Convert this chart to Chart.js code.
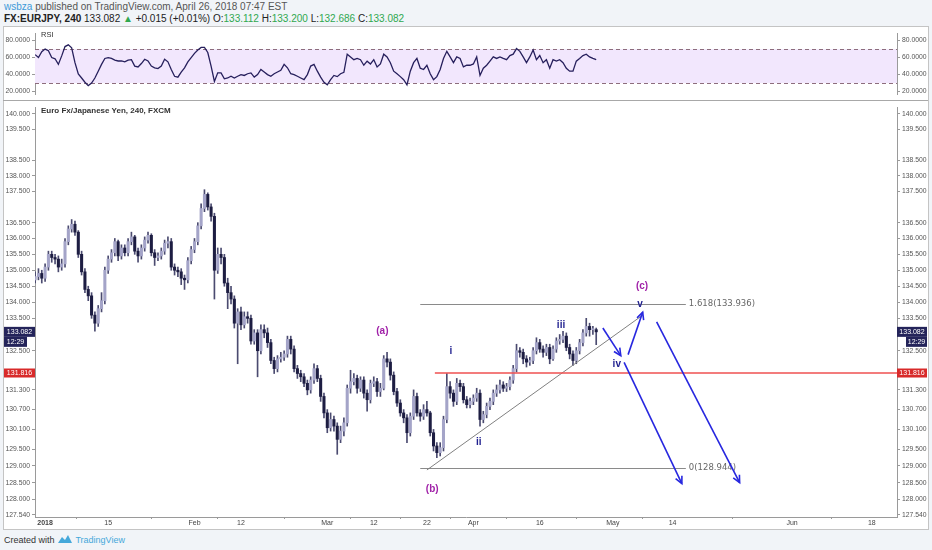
<!DOCTYPE html>
<html><head><meta charset="utf-8">
<script src="https://cdn.jsdelivr.net/npm/chart.js@4.4.1/dist/chart.umd.min.js"></script>
<style>
html,body{margin:0;padding:0;width:932px;height:550px;overflow:hidden;background:#f1f4f8;font-family:"Liberation Sans",Arial,sans-serif;}
#h1{position:absolute;left:4px;top:1px;font-size:10px;color:#555;white-space:nowrap;}
#h2{position:absolute;left:4px;top:13px;font-size:10px;color:#222;white-space:nowrap;}
.g{color:#2fa84f;}
#frame{position:absolute;left:3px;top:26px;width:924px;height:502px;background:#fff;border:1px solid #c4c4c4;}
canvas{position:absolute;left:3px;}
#rsi{top:27px;}
#main{top:101px;}
#sep{position:absolute;left:3px;top:100px;width:925px;height:1px;background:#a8a8a8;}
#rsiT{position:absolute;left:41px;top:30px;font-size:7.5px;color:#333;}
#mainT{position:absolute;left:41px;top:106px;font-size:8px;font-weight:bold;color:#333;white-space:nowrap;}
#ft{position:absolute;left:4px;top:534px;font-size:9px;color:#333;white-space:nowrap;}
#ft span{color:#45a8da;}
</style></head>
<body>
<div id="h1"><span style="color:#3d9ad8">wsbza</span> published on TradingView.com, April 26, 2018 07:47 EST</div>
<div id="h2"><b>FX:EURJPY, 240</b> 133.082 <span class="g">▲</span> +0.015 (+0.01%) O:<span class="g">133.112</span> H:<span class="g">133.200</span> L:<span class="g">132.686</span> C:<span class="g">133.082</span></div>
<div id="frame"></div>
<canvas id="rsi" width="925" height="74" style="width:925px;height:74px"></canvas>
<canvas id="main" width="925" height="428" style="width:925px;height:428px"></canvas>
<div id="sep"></div>
<div id="rsiT">RSI</div>
<div id="mainT">Euro Fx/Japanese Yen, 240, FXCM</div>
<div id="ft">Created with <svg width="16" height="10" viewBox="0 0 16 10" style="vertical-align:-1px"><path d="M1 9 L5 3 L8 6 L11 1 L15 9 Z" fill="#45a8da"/></svg> <span>TradingView</span></div>
<script>
// time axis: weekday index counted from 1 Jan 2018, two bars (12h) per day
const firstT = -1;
const barStep = 0.5;
const firstOpen = 134.7;
const closes = [
134.8,134.9,134.75,135.1,135.5,135.4,135.35,135.1,135.2,135.9,
136.3,136.45,136.2,135.5,134.95,134.4,134.2,133.6,133.35,133.8,
134.05,135.0,135.35,135.55,135.9,135.45,135.7,135.55,135.9,136.05,
135.6,135.45,135.7,135.95,136.1,135.55,135.4,135.45,135.6,135.85,
135.9,135.1,135.0,134.95,134.75,134.7,135.3,135.65,135.9,136.4,
136.95,137.4,137.0,136.7,135.0,135.5,135.4,134.6,134.3,134.1,
133.35,133.7,133.3,133.55,133.5,132.8,133.05,132.5,133.15,133.05,
132.75,132.2,131.95,132.25,132.3,132.4,132.85,132.55,131.95,131.8,
131.7,131.5,131.3,131.6,131.95,131.65,131.1,130.6,130.15,130.4,
130.2,129.8,130.05,130.3,131.35,131.55,131.65,131.35,131.6,131.2,
131.0,131.5,131.55,131.25,131.35,132.25,132.15,131.75,131.25,130.9,
130.6,130.45,130.0,130.5,131.1,130.6,130.5,130.7,130.6,130.0,
129.6,129.4,129.55,130.4,131.4,131.2,130.95,131.5,131.4,131.0,
130.85,130.95,131.05,131.2,130.4,130.55,130.8,130.95,131.2,131.3,
131.45,131.35,131.4,131.6,131.95,132.5,132.45,132.25,132.15,132.2,
132.5,132.75,132.55,132.45,132.6,132.25,132.55,132.8,132.85,132.95,
132.6,132.4,132.2,132.5,132.75,133.05,133.25,133.15,133.15,133.082];
const highs = [
134.95,135.05,135.0,135.2,135.6,135.6,135.5,135.45,135.35,136.0,
136.4,136.6,136.55,136.25,135.6,135.05,134.5,134.3,133.7,133.9,
134.3,135.1,135.45,135.65,136.0,135.95,135.8,135.8,136.0,136.2,
136.1,135.7,135.8,136.05,136.2,136.15,135.65,135.55,135.7,135.95,
136.05,136.0,135.2,135.1,135.05,134.85,135.4,135.75,136.0,136.5,
137.1,137.55,137.45,137.1,136.8,135.7,135.7,135.5,134.75,134.5,
134.2,133.8,133.85,133.7,133.7,133.6,133.15,133.15,133.3,133.3,
133.2,132.85,132.3,132.35,132.45,132.5,132.95,132.95,132.65,132.05,
131.9,131.8,131.6,131.7,132.1,132.05,131.75,131.2,130.7,130.6,
130.5,130.3,130.2,130.45,131.45,131.9,131.8,131.75,131.7,131.7,
131.3,131.6,131.7,131.65,131.5,132.35,132.45,132.25,131.85,131.35,
131.0,130.7,130.55,130.6,131.3,131.2,130.7,130.85,130.95,130.65,
130.1,129.7,129.7,130.5,131.8,131.55,131.3,131.65,131.6,131.5,
131.1,131.05,131.15,131.35,131.3,130.65,130.9,131.05,131.3,131.45,
131.6,131.55,131.5,131.7,132.05,132.7,132.6,132.55,132.35,132.3,
132.6,132.9,132.85,132.65,132.7,132.7,132.65,132.9,133.0,133.1,
133.05,132.7,132.5,132.6,132.85,133.15,133.5,133.35,133.25,133.2];
const lows = [
134.6,134.7,134.6,134.65,135.0,135.25,135.2,134.95,135.0,135.1,
135.8,136.2,136.1,135.4,134.85,134.3,134.05,133.5,133.1,133.25,
133.7,133.95,134.9,135.25,135.45,135.3,135.35,135.45,135.45,135.8,
135.5,135.25,135.35,135.6,135.85,135.45,135.15,135.3,135.35,135.5,
135.7,135.0,134.85,134.8,134.55,134.4,134.6,135.2,135.55,135.8,
136.3,136.85,136.9,136.55,134.1,134.9,135.2,134.5,133.8,133.95,
133.2,132.1,133.15,133.2,133.35,132.7,132.7,131.7,132.4,132.9,
132.6,132.1,131.8,131.85,132.15,132.2,132.3,132.4,131.85,131.65,
131.55,131.4,131.15,131.2,131.5,131.55,130.95,130.45,130.0,130.05,
130.05,129.35,129.7,129.9,130.2,131.2,131.45,131.2,131.25,131.05,
130.65,130.9,131.4,131.1,131.1,131.3,132.0,131.6,131.15,130.8,
130.5,130.3,129.7,129.9,130.4,130.5,130.35,130.4,130.5,129.9,
129.45,129.25,129.3,129.45,130.3,131.05,130.8,130.85,131.25,130.9,
130.75,130.75,130.85,130.95,130.2,130.3,130.45,130.7,130.85,131.1,
131.2,131.25,131.25,131.3,131.5,131.85,132.3,132.1,132.0,132.05,
132.1,132.4,132.45,132.3,132.35,132.1,132.2,132.45,132.7,132.75,
132.5,132.25,132.05,132.1,132.4,132.65,132.95,132.95,133.0,132.686];
const rsiValues = [
63.5,60,67,70,68,60,58.6,52,62,73,
75,71.6,54,40.75,36,31,27,30,36,44,
52,59,60,59,57,56,56,55,57,57.5,
50,49,53,58,56,50,48,47,50,58,
55,46,38,37,43,48,55,60,65,69,
72,72,66,50,32,42,42,35,36,38,
36,38,40,39,41,42,37,40,46,43,
40,38,41,43,45,52,48,41,40,38,
36,34,40,50,52,44,37,31,28,
34,39,37.6,41,42.6,64,60.8,57.5,59,57.5,
51,55.8,52.5,57.5,49,52.5,64,60.8,54,44,
41,37.6,34,28,44,54,59,47.5,46,51,
41,34,37.6,46,59,67.4,60.8,54,60.8,59,
49,51,51,52.5,60.8,39,47.5,51,55.8,60.8,
59,60.8,59,57.5,62.4,64,70.6,67.4,60.8,54,
60.8,69,57.5,62.4,54,57.5,47.5,57.5,55.8,57.5,
54,47.5,44,44,55.8,59,62.4,64,60.8,59,57.5];
const rsiUpper = 70, rsiLower = 30;
const rsiTicks = [20,40,60,80];
const priceTicks = [140,139.5,138.5,138,137.5,136.5,136,135.5,135,134.5,134,133.5,132.5,131.3,130.7,130.1,129.5,129,128.5,128,127.54];
const xTickPos = [0.5,10,23,30,43,50,58,65,75,86,95,113,125];
const xTickLabels = ['2018','15','Feb','12','Mar','12','22','Apr','16','May','14','Jun','18'];
const xRange = [-1.02, 128.8];
const priceRange = [127.48, 140.215];
const rsiRange = [16.07, 88.85];
const lastPrice = 133.082, lastPriceText = '133.082', countdownText = '12:29';
const redLevel = 131.816, redStartT = 59.2;
const fibLevels = [133.936, 128.944];
const fibTexts = ['1.618(133.936)', '0(128.944)'];
const fibStartT = 57, fibEndT = 97;
const trendStart = [58, 128.88], trendEnd = [90.5, 133.60];
const arrowFromT = [84.5, 88.3, 87.7, 92.6];
const arrowFromP = [133.20, 132.38, 132.14, 133.39];
const arrowToT   = [87.2, 90.5, 96.4, 105.1];
const arrowToP   = [132.35, 133.69, 128.47, 128.50];
const waveTexts  = ['(a)','(b)','(c)','i','ii','iii','iv','v'];
const waveT      = [51.3, 58.8, 90.4, 61.6, 65.8, 78.2, 86.6, 90.1];
const waveP      = [133.11, 128.30, 134.49, 132.47, 129.71, 133.30, 132.08, 133.94];
const waveMajor  = [true, true, true, false, false, false, false, false];

const tAt = i => firstT + i * barStep;
const opens = closes.map((c, i) => i === 0 ? firstOpen : closes[i - 1]);
const FF = '"Liberation Sans", Arial, sans-serif';
const axisCol = '#9a9a9a';

function yAxis(pos, min, max, ticks, digits, width, type) {
  return {
    type: type, position: pos, min: min, max: max,
    afterBuildTicks(s) { s.ticks = ticks.map(v => ({ value: v })); },
    afterFit(s) { s.width = width; },
    ticks: { autoSkip: false, padding: 2, color: '#555', font: { family: FF, size: 6.8 },
      callback: v => Number(v).toFixed(digits) },
    grid: { display: true, drawOnChartArea: false, drawTicks: true, tickLength: 3, color: axisCol },
    border: { display: true, color: axisCol }
  };
}

// RSI pane
const rsiBand = {
  id: 'rsiBand',
  beforeDatasetsDraw(chart) {
    const { ctx, chartArea: a, scales: { y } } = chart;
    const yu = y.getPixelForValue(rsiUpper), yl = y.getPixelForValue(rsiLower);
    ctx.save();
    ctx.fillStyle = '#f2e7fd';
    ctx.fillRect(a.left, yu, a.right - a.left, yl - yu);
    ctx.strokeStyle = '#8d6d7d';
    ctx.lineWidth = 1;
    ctx.setLineDash([4, 3]);
    [yu, yl].forEach(p => { ctx.beginPath(); ctx.moveTo(a.left, Math.round(p) + 0.5); ctx.lineTo(a.right, Math.round(p) + 0.5); ctx.stroke(); });
    ctx.restore();
  }
};
new Chart(document.getElementById('rsi'), {
  type: 'line',
  data: { datasets: [{ data: rsiValues.map((v, i) => ({ x: tAt(i), y: v })), borderColor: '#261f5c', borderWidth: 1.3, pointRadius: 0, tension: 0 }] },
  options: {
    responsive: false, animation: false, devicePixelRatio: 1,
    layout: { padding: 0, autoPadding: false },
    plugins: { legend: { display: false }, tooltip: { enabled: false } },
    scales: {
      x: { type: 'linear', display: false, min: xRange[0], max: xRange[1] },
      y: yAxis('left', rsiRange[0], rsiRange[1], rsiTicks, 4, 32, 'linear'),
      y2: yAxis('right', rsiRange[0], rsiRange[1], rsiTicks, 4, 31, 'linear')
    }
  },
  plugins: [rsiBand]
});

// Price pane
function arrow(ctx, x1, y1, x2, y2) {
  ctx.beginPath(); ctx.moveTo(x1, y1); ctx.lineTo(x2, y2); ctx.stroke();
  const ang = Math.atan2(y2 - y1, x2 - x1), L = 8, w = 0.45;
  ctx.beginPath();
  ctx.moveTo(x2 - L * Math.cos(ang - w), y2 - L * Math.sin(ang - w));
  ctx.lineTo(x2, y2);
  ctx.lineTo(x2 - L * Math.cos(ang + w), y2 - L * Math.sin(ang + w));
  ctx.stroke();
}
function tag(ctx, x, yc, w, h, bg, text) {
  ctx.fillStyle = bg;
  ctx.fillRect(x, yc - h / 2, w, h);
  ctx.fillStyle = '#fff';
  ctx.font = '7px ' + FF;
  ctx.textBaseline = 'middle';
  ctx.textAlign = 'center';
  ctx.fillText(text, x + w / 2, yc + 0.5);
}
const overlay = {
  id: 'overlay',
  afterDatasetsDraw(chart) {
    const { ctx, chartArea: a, scales: { x, y } } = chart;
    ctx.save();
    ctx.beginPath(); ctx.rect(a.left, a.top, a.right - a.left, a.bottom - a.top); ctx.clip();
    ctx.lineWidth = 1;
    // fib lines
    fibLevels.forEach((lv, i) => {
      const py = Math.round(y.getPixelForValue(lv)) + 0.5;
      ctx.strokeStyle = '#8a8a8a';
      ctx.beginPath(); ctx.moveTo(x.getPixelForValue(fibStartT), py); ctx.lineTo(x.getPixelForValue(fibEndT), py); ctx.stroke();
      ctx.fillStyle = '#666';
      ctx.font = '8.5px "DejaVu Sans", sans-serif';
      ctx.textAlign = 'left'; ctx.textBaseline = 'middle';
      ctx.fillText(fibTexts[i], x.getPixelForValue(fibEndT) + 3, py - 1);
    });
    // trend line
    ctx.strokeStyle = '#808080';
    ctx.beginPath();
    ctx.moveTo(x.getPixelForValue(trendStart[0]), y.getPixelForValue(trendStart[1]));
    ctx.lineTo(x.getPixelForValue(trendEnd[0]), y.getPixelForValue(trendEnd[1]));
    ctx.stroke();
    // red horizontal level
    ctx.strokeStyle = '#ef5050';
    ctx.lineWidth = 1.6;
    const ry = Math.round(y.getPixelForValue(redLevel));
    ctx.beginPath(); ctx.moveTo(x.getPixelForValue(redStartT), ry); ctx.lineTo(a.right, ry); ctx.stroke();
    // arrows
    ctx.strokeStyle = '#2727df';
    ctx.lineWidth = 1.6;
    arrowFromT.forEach((t, i) => arrow(ctx, x.getPixelForValue(t), y.getPixelForValue(arrowFromP[i]), x.getPixelForValue(arrowToT[i]), y.getPixelForValue(arrowToP[i])));
    // wave labels
    ctx.textAlign = 'center'; ctx.textBaseline = 'middle';
    waveTexts.forEach((s, i) => {
      ctx.fillStyle = waveMajor[i] ? '#a021a8' : '#1f1f8f';
      ctx.font = 'bold 10px ' + FF;
      ctx.fillText(s, x.getPixelForValue(waveT[i]), y.getPixelForValue(waveP[i]));
    });
    ctx.restore();
    // axis tags
    ctx.save();
    const ly = y.getPixelForValue(lastPrice);
    const W = chart.width;
    tag(ctx, 1, ly, a.left - 1, 10, '#24245a', lastPriceText);
    tag(ctx, 1, ly + 10, 23, 10, '#24245a', countdownText);
    tag(ctx, a.right, ly, W - a.right - 1, 10, '#24245a', lastPriceText);
    tag(ctx, W - 22, ly + 10, 21, 10, '#24245a', countdownText);
    const ry2 = y.getPixelForValue(redLevel);
    tag(ctx, 1, ry2, a.left - 1, 9, '#d82a2a', redLevel.toFixed(3));
    tag(ctx, a.right, ry2, W - a.right - 1, 9, '#d82a2a', redLevel.toFixed(3));
    ctx.restore();
  }
};
new Chart(document.getElementById('main'), {
  type: 'bar',
  data: { datasets: [
    { label: 'wick', data: closes.map((c, i) => ({ x: tAt(i), y: [lows[i], highs[i]] })), backgroundColor: '#4b4b70', barThickness: 1, grouped: false, order: 2 },
    { label: 'body', data: closes.map((c, i) => ({ x: tAt(i), y: [opens[i], c] })), backgroundColor: closes.map((c, i) => c >= opens[i] ? '#a4a4c8' : '#1d1d42'), barThickness: 2.4, minBarLength: 1, grouped: false, order: 1 }
  ] },
  options: {
    responsive: false, animation: false, devicePixelRatio: 1,
    layout: { padding: 0, autoPadding: false },
    plugins: { legend: { display: false }, tooltip: { enabled: false } },
    scales: {
      x: { type: 'linear', min: xRange[0], max: xRange[1], offset: false,
        afterBuildTicks(s) { s.ticks = xTickPos.map(v => ({ value: v })); },
        afterFit(s) { s.height = 12; },
        ticks: { autoSkip: false, maxRotation: 0, padding: 0, color: '#444',
          font: c => ({ family: FF, size: 7, weight: c.index === 0 ? 'bold' : 'normal' }),
          callback: (v, i) => xTickLabels[i] },
        grid: { display: true, drawOnChartArea: false, drawTicks: true, tickLength: 2, color: axisCol },
        border: { display: true, color: axisCol } },
      y: yAxis('left', priceRange[0], priceRange[1], priceTicks, 3, 32, 'logarithmic'),
      y2: yAxis('right', priceRange[0], priceRange[1], priceTicks, 3, 31, 'logarithmic')
    }
  },
  plugins: [overlay]
});
</script>
</body></html>
